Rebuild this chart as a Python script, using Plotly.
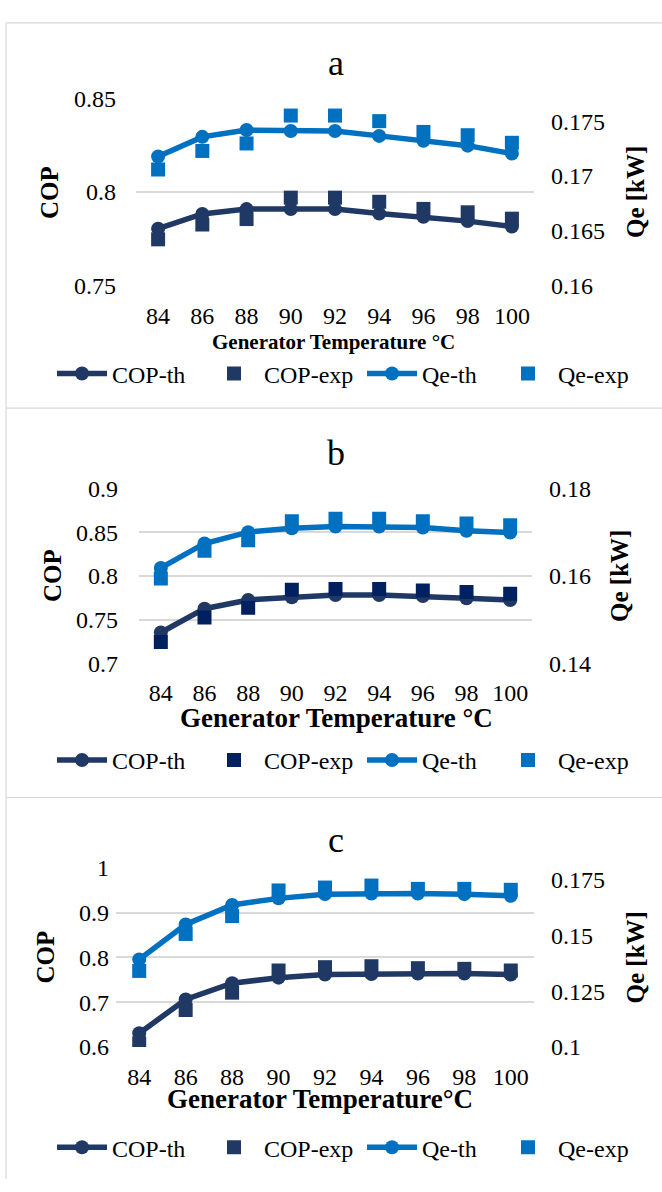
import plotly.graph_objects as go

# ---------------- data ----------------
temps = ["84", "86", "88", "90", "92", "94", "96", "98", "100"]

cop_th_a = [0.7805, 0.7883, 0.7909, 0.7909, 0.7909, 0.7885, 0.7868, 0.7845, 0.7816]
cop_exp_a = [0.7748, 0.7827, 0.7856, 0.7970, 0.7970, 0.7948, 0.7910, 0.7892, 0.7858]
qe_th_a = [0.17178, 0.17357, 0.17419, 0.17410, 0.17410, 0.17366, 0.17321, 0.17277, 0.17205]
qe_exp_a = [0.17060, 0.17229, 0.17297, 0.17551, 0.17551, 0.17500, 0.17402, 0.17372, 0.17303]

cop_th_b = [0.7354, 0.7626, 0.7726, 0.7756, 0.7782, 0.7782, 0.7771, 0.7745, 0.7726]
cop_exp_b = [0.7246, 0.7525, 0.7637, 0.7841, 0.7852, 0.7852, 0.7834, 0.7816, 0.7797]
qe_th_b = [0.16183, 0.16742, 0.17001, 0.17091, 0.17128, 0.17128, 0.17106, 0.17032, 0.16994]
qe_exp_b = [0.15944, 0.16577, 0.16816, 0.17247, 0.17307, 0.17307, 0.17247, 0.17196, 0.17158]

cop_th_c = [0.6307, 0.7060, 0.7423, 0.7548, 0.7620, 0.7629, 0.7642, 0.7642, 0.7620]
cop_exp_c = [0.6080, 0.6825, 0.7213, 0.7708, 0.7782, 0.7804, 0.7760, 0.7745, 0.7708]
qe_th_c = [0.13928, 0.15492, 0.16371, 0.16665, 0.16854, 0.16885, 0.16885, 0.16854, 0.16784]
qe_exp_c = [0.1341, 0.1507, 0.1587, 0.1702, 0.1715, 0.1724, 0.1709, 0.1709, 0.1705]

cop_ticks_a = [0.75, 0.8, 0.85]
cop_labels_a = ["0.75", "0.8", "0.85"]
qe_ticks_a = [0.16, 0.165, 0.17, 0.175]
qe_labels_a = ["0.16", "0.165", "0.17", "0.175"]

cop_ticks_b = [0.7, 0.75, 0.8, 0.85, 0.9]
cop_labels_b = ["0.7", "0.75", "0.8", "0.85", "0.9"]
qe_ticks_b = [0.14, 0.16, 0.18]
qe_labels_b = ["0.14", "0.16", "0.18"]

cop_ticks_c = [0.6, 0.7, 0.8, 0.9, 1.0]
cop_labels_c = ["0.6", "0.7", "0.8", "0.9", "1"]
qe_ticks_c = [0.1, 0.125, 0.15, 0.175]
qe_labels_c = ["0.1", "0.125", "0.15", "0.175"]

panel_titles = ["a", "b", "c"]
x_titles = ["Generator Temperature °C", "Generator Temperature °C", "Generator Temperature°C"]
series_names = ["COP-th", "COP-exp", "Qe-th", "Qe-exp"]

# ---------------- style ----------------
W, H = 662, 1192
FONT = "Liberation Serif, Times New Roman, serif"
C_COP = "#203864"
C_COP_EXP_B = "#002060"
C_QE = "#0070C0"
GRID = "#d9d9d9"
LEG_WIDTHS = [87, 93, 71, 70]   # legend entry text widths (px)


def px_x(p):
    return p / W


def px_y(p):
    return 1 - p / H


panels = [
    dict(cop_th=cop_th_a, cop_exp=cop_exp_a, qe_th=qe_th_a, qe_exp=qe_exp_a,
         xdom=(136, 534), ydom=(87, 279), yr=(0.75, 0.85), y2r=(0.16, 0.1771),
         yt=(cop_ticks_a, cop_labels_a), y2t=(qe_ticks_a, qe_labels_a),
         cop_exp_color=C_COP, lstand=19, title_y=51, xt_y=336, xt_x=333, xt_size=21,
         cop_x=49, qe_x=635, leg_y=369, top=10),
    dict(cop_th=cop_th_b, cop_exp=cop_exp_b, qe_th=qe_th_b, qe_exp=qe_exp_b,
         xdom=(139, 532), ydom=(486, 665), yr=(0.7, 0.9), y2r=(0.14, 0.18),
         yt=(cop_ticks_b, cop_labels_b), y2t=(qe_ticks_b, qe_labels_b),
         cop_exp_color=C_COP_EXP_B, lstand=20, title_y=450, xt_y=721, xt_x=336, xt_size=27,
         cop_x=53, qe_x=620, leg_y=764, top=404),
    dict(cop_th=cop_th_c, cop_exp=cop_exp_c, qe_th=qe_th_c, qe_exp=qe_exp_c,
         xdom=(116, 534), ydom=(874, 1057), yr=(0.6, 1.0), y2r=(0.1, 0.1803),
         yt=(cop_ticks_c, cop_labels_c), y2t=(qe_ticks_c, qe_labels_c),
         cop_exp_color=C_COP, lstand=6, title_y=845, xt_y=1110, xt_x=320, xt_size=27,
         cop_x=45, qe_x=635, leg_y=1160, top=802),
]

fig = go.Figure()
layout = dict(
    width=W, height=H, autosize=False,
    margin=dict(l=0, r=0, t=0, b=0),
    paper_bgcolor="white", plot_bgcolor="white",
    font=dict(family=FONT, size=24, color="#000000"),
    showlegend=True,
)
annotations = []
shapes = []

for i, p in enumerate(panels):
    xn = "x" if i == 0 else f"x{i+1}"
    y1n = "y" if i == 0 else f"y{2*i+1}"
    y2n = f"y{2*i+2}"
    leg = "legend" if i == 0 else f"legend{i+1}"

    fig.add_trace(go.Scatter(
        x=temps, y=p["cop_th"], name=series_names[0], mode="lines+markers",
        line=dict(color=C_COP, width=5.5), marker=dict(symbol="circle", size=14, color=C_COP),
        xaxis=xn, yaxis=y1n, legend=leg, legendwidth=LEG_WIDTHS[0]))
    fig.add_trace(go.Scatter(
        x=temps, y=p["cop_exp"], name=series_names[1], mode="markers",
        marker=dict(symbol="square", size=14, color=p["cop_exp_color"]),
        xaxis=xn, yaxis=y1n, legend=leg, legendwidth=LEG_WIDTHS[1]))
    fig.add_trace(go.Scatter(
        x=temps, y=p["qe_th"], name=series_names[2], mode="lines+markers",
        line=dict(color=C_QE, width=5.5), marker=dict(symbol="circle", size=14, color=C_QE),
        xaxis=xn, yaxis=y2n, legend=leg, legendwidth=LEG_WIDTHS[2]))
    fig.add_trace(go.Scatter(
        x=temps, y=p["qe_exp"], name=series_names[3], mode="markers",
        marker=dict(symbol="square", size=14, color=C_QE),
        xaxis=xn, yaxis=y2n, legend=leg, legendwidth=LEG_WIDTHS[3]))

    xkey = "xaxis" if i == 0 else f"xaxis{i+1}"
    y1key = "yaxis" if i == 0 else f"yaxis{2*i+1}"
    y2key = f"yaxis{2*i+2}"

    layout[xkey] = dict(
        domain=[px_x(p["xdom"][0]), px_x(p["xdom"][1])], anchor=y1n,
        type="category", range=[-0.5, len(temps) - 0.5],
        showgrid=False, showline=False, zeroline=False, ticks="",
        tickfont=dict(size=24, family=FONT), ticklabelstandoff=13, fixedrange=True)
    layout[y1key] = dict(
        domain=[px_y(p["ydom"][1]), px_y(p["ydom"][0])], anchor=xn,
        range=list(p["yr"]), tickvals=p["yt"][0], ticktext=p["yt"][1],
        showgrid=True, gridcolor=GRID, gridwidth=1.5, zeroline=False, showline=False,
        ticks="", tickfont=dict(size=24, family=FONT), ticklabelstandoff=p["lstand"],
        fixedrange=True)
    layout[y2key] = dict(
        overlaying=y1n, side="right", anchor=xn,
        range=list(p["y2r"]), tickvals=p["y2t"][0], ticktext=p["y2t"][1],
        showgrid=False, zeroline=False, showline=False, ticks="",
        tickfont=dict(size=24, family=FONT), ticklabelstandoff=16, fixedrange=True)

    layout[leg] = dict(
        orientation="h", x=px_x(52), xanchor="left", y=px_y(p["leg_y"]), yanchor="middle",
        font=dict(size=24, family=FONT), itemwidth=50, bgcolor="rgba(0,0,0,0)",
        borderwidth=0, itemclick=False, itemdoubleclick=False)

    annotations.append(dict(
        text=panel_titles[i], xref="paper", yref="paper",
        x=px_x(336), y=px_y(p["title_y"]), xanchor="center", yanchor="middle",
        showarrow=False, font=dict(size=36, family=FONT)))
    annotations.append(dict(
        text=f"<b>{x_titles[i]}</b>", xref="paper", yref="paper",
        x=px_x(p["xt_x"]), y=px_y(p["xt_y"]), xanchor="center", yanchor="middle",
        showarrow=False, font=dict(size=p["xt_size"], family=FONT)))
    ymid = (p["ydom"][0] + p["ydom"][1]) / 2
    annotations.append(dict(
        text="<b>COP</b>", xref="paper", yref="paper", textangle=-90,
        x=px_x(p["cop_x"]), y=px_y(ymid), xanchor="center", yanchor="middle",
        showarrow=False, font=dict(size=25, family=FONT)))
    annotations.append(dict(
        text="<b>Qe [kW]</b>", xref="paper", yref="paper", textangle=-90,
        x=px_x(p["qe_x"]), y=px_y(ymid), xanchor="center", yanchor="middle",
        showarrow=False, font=dict(size=25, family=FONT)))

    # panel frame: top edge (frames continue past the right/bottom of the picture)
    shapes.append(dict(
        type="line", xref="paper", yref="paper",
        x0=px_x(6), x1=1, y0=px_y(p["top"]), y1=px_y(p["top"]),
        line=dict(color=GRID, width=1.2), layer="below"))

# left frame edge for all panels
shapes.append(dict(
    type="line", xref="paper", yref="paper",
    x0=px_x(6), x1=px_x(6), y0=0, y1=px_y(10),
    line=dict(color=GRID, width=1.2), layer="below"))

layout["annotations"] = annotations
layout["shapes"] = shapes
fig.update_layout(**layout)

fig.write_html(
    "out.html",
    config={"displayModeBar": False},
    post_script="document.body.style.margin='0';document.body.style.overflow='hidden';",
)
